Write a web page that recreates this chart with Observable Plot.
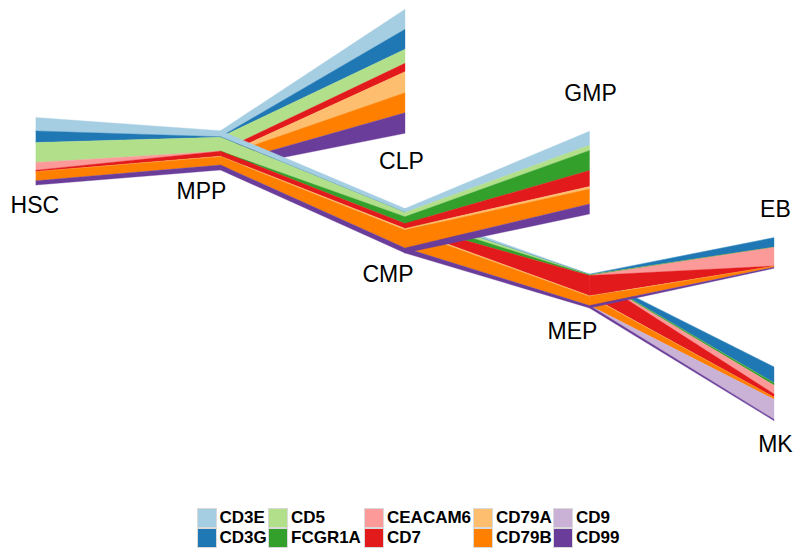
<!DOCTYPE html>
<html><head><meta charset="utf-8">
<script src="https://cdn.jsdelivr.net/npm/d3@7"></script>
<script src="https://cdn.jsdelivr.net/npm/@observablehq/plot@0.6"></script>
<style>
body{margin:0;background:#fff;width:794px;height:552px;position:relative;overflow:hidden;font-family:"Liberation Sans",Arial,Helvetica,sans-serif;}
#chart{position:absolute;left:0;top:0;}
#legend{position:absolute;left:196.5px;top:507.5px;display:flex;font-weight:bold;font-size:17px;color:#000;}
.col{display:flex;flex-direction:column;}
.item{display:flex;align-items:center;height:20.3px;white-space:nowrap;}
.sw{width:20px;height:20.3px;border:1px solid #d9d9d9;margin-right:3px;box-sizing:border-box;flex:none;}
</style></head><body><div id="chart"></div><div id="legend"></div>
<script>
// genes, listed top-of-stack to bottom-of-stack
const genes = ["CD3E","CD3G","CD5","FCGR1A","CEACAM6","CD7","CD79A","CD79B","CD9","CD99"];
const geneColors = ["#a6cee3","#1f78b4","#b2df8a","#33a02c","#fb9a99","#e31a1c","#fdbf6f","#ff7f00","#cab2d6","#6a3d9a"];

// tree nodes: pseudotime level and layout baseline (bottom of stack)
const nodeNames = ["HSC","MPP","CLP","CMP","GMP","MEP","EB","MK"];
const nodeTime  = [0, 1, 2, 2, 3, 3, 4, 4];
const nodeBase  = [185, 170, 133.3, 253, 214, 308, 268.3, 420.7];

// stream widths per gene at each node (order of genes array)
const widthHSC = [13.4, 11.6, 20, 0, 7.7, 1.5, 0, 9, 0, 4.3];
const widthMPP = [6, 0.5, 14, 0, 0, 5, 0.5, 8.3, 0, 5];
const widthCLP = [20, 20, 14, 0, 0, 8.4, 21, 20, 0, 20.6];
const widthCMP = [4, 0, 4.2, 6.8, 0, 5, 1.5, 18, 0, 5];
const widthGMP = [14, 0, 5.3, 20, 0, 16, 2.5, 15, 0, 10];
const widthMEP = [0.5, 0.3, 0.3, 0.5, 0, 20.3, 0.7, 9, 0, 2.5];
const widthEB  = [0, 9.6, 0, 0, 18.7, 0.3, 0, 1, 0, 1];
const widthMK  = [0, 16, 0, 2.3, 8.7, 3.3, 0, 2, 20, 1.4];

// branches in drawing order (later ones on top)
const branches = [["HSC","MPP"],["MPP","CLP"],["MPP","CMP"],["CMP","MEP"],["CMP","GMP"],["MEP","MK"],["MEP","EB"]];

// label anchors
const labelTime = [-0.009, 0.894, 1.978, 1.905, 3.003, 2.905, 4.005, 4.005];
const labelY    = [205, 191, 161, 274.3, 93.3, 331, 209.3, 444.3];

const widths = {HSC: widthHSC, MPP: widthMPP, CLP: widthCLP, CMP: widthCMP, GMP: widthGMP, MEP: widthMEP, EB: widthEB, MK: widthMK};

function stackAt(name) {
  const i = nodeNames.indexOf(name);
  const w = widths[name];
  let cur = nodeBase[i];
  const out = new Array(genes.length);
  for (let g = genes.length - 1; g >= 0; g--) {
    out[g] = {lo: cur, hi: cur - w[g], w: w[g]};
    cur -= w[g];
  }
  return {t: nodeTime[i], layers: out};
}

const marks = [];
for (const [a, b] of branches) {
  const sa = stackAt(a), sb = stackAt(b);
  const rows = [];
  genes.forEach((g, k) => {
    if (sa.layers[k].w === 0 && sb.layers[k].w === 0) return;
    rows.push({gene: g, t: sa.t, lo: sa.layers[k].lo, hi: sa.layers[k].hi});
    rows.push({gene: g, t: sb.t, lo: sb.layers[k].lo, hi: sb.layers[k].hi});
  });
  marks.push(Plot.area(rows, {x1: "t", y1: "lo", y2: "hi", z: "gene", fill: "gene", stroke: "gene", strokeWidth: 0.35}));
}

const labels = nodeNames.map((n, i) => ({name: n, t: labelTime[i], y: labelY[i]}));
marks.push(Plot.text(labels, {x: "t", y: "y", text: "name", fontSize: 23, fill: "#000"}));

const chart = Plot.plot({
  width: 794, height: 500, margin: 0,
  style: {fontFamily: '"Liberation Sans", Arial, Helvetica, sans-serif', background: "#fff"},
  x: {domain: [0, 4], range: [36, 774], axis: null},
  y: {domain: [0, 500], range: [0, 500], axis: null},
  color: {domain: genes, range: geneColors},
  marks
});
document.getElementById("chart").appendChild(chart);

// legend: 2 rows, column-major
const legendColWidths = [71.5, 96, 109, 80, 60];
const legend = document.getElementById("legend");
for (let c = 0; c < genes.length; c += 2) {
  const col = document.createElement("div");
  col.className = "col";
  col.style.width = legendColWidths[c / 2] + "px";
  for (let r = c; r < c + 2 && r < genes.length; r++) {
    const it = document.createElement("div");
    it.className = "item";
    const sw = document.createElement("div");
    sw.className = "sw";
    sw.style.background = geneColors[r];
    const tx = document.createElement("span");
    tx.textContent = genes[r];
    it.appendChild(sw); it.appendChild(tx);
    col.appendChild(it);
  }
  legend.appendChild(col);
}
</script></body></html>
